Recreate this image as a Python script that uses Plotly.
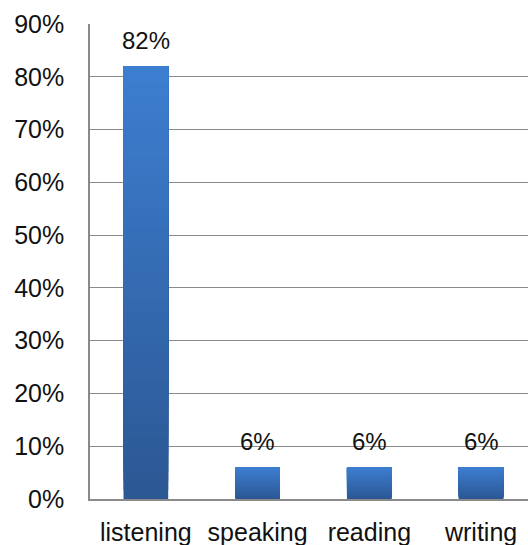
import plotly.graph_objects as go

# Share of respondents per language skill
categories = ["listening", "speaking", "reading", "writing"]
values = [82, 6, 6, 6]
tick_values = [0, 10, 20, 30, 40, 50, 60, 70, 80, 90]
tick_labels = ["0%", "10%", "20%", "30%", "40%", "50%", "60%", "70%", "80%", "90%"]

FONT = "Liberation Sans, Arial, sans-serif"
TOP_RGB = (61, 126, 208)
BOTTOM_RGB = (44, 88, 148)
STEPS = 48

fig = go.Figure()

# Vertical gradient: each layer starts a little higher and is lighter,
# always reaching the bar's full value so the layers never leave seams.
for k in range(STEPS):
    t = k / (STEPS - 1)
    rgb = tuple(round(b + (a - b) * t) for a, b in zip(TOP_RGB, BOTTOM_RGB))
    bases = [v * k / STEPS for v in values]
    heights = [v - b for v, b in zip(values, bases)]
    fig.add_trace(go.Bar(
        x=categories,
        y=heights,
        base=bases,
        width=0.40,
        marker=dict(color="rgb(%d,%d,%d)" % rgb, line=dict(width=0)),
        hoverinfo="skip",
        showlegend=False,
    ))

# Value labels above the bars
for c, v in zip(categories, values):
    fig.add_annotation(
        x=c, y=v, text=f"{v}%", showarrow=False,
        yanchor="bottom", yshift=10,
        font=dict(family=FONT, size=24, color="#111111"),
    )

fig.update_layout(
    width=528, height=545,
    margin=dict(l=90, r=0, t=24, b=46),
    paper_bgcolor="white",
    plot_bgcolor="white",
    barmode="overlay",
    font=dict(family=FONT, size=25, color="#111111"),
)

fig.update_xaxes(
    type="category",
    range=[-0.5, 3.42],
    showgrid=False,
    showline=True, linecolor="#8a8a8a", linewidth=1.5,
    ticks="", ticklabelstandoff=10,
    tickfont=dict(family=FONT, size=25, color="#111111"),
)

fig.update_yaxes(
    range=[0, 90],
    tickvals=tick_values,
    ticktext=tick_labels,
    showgrid=True, gridcolor="#8a8a8a", gridwidth=1.2,
    showline=True, linecolor="#8a8a8a", linewidth=1.5,
    zeroline=False,
    ticks="", ticklabelstandoff=19,
    tickfont=dict(family=FONT, size=25, color="#111111"),
)

fig.write_html("out.html")
